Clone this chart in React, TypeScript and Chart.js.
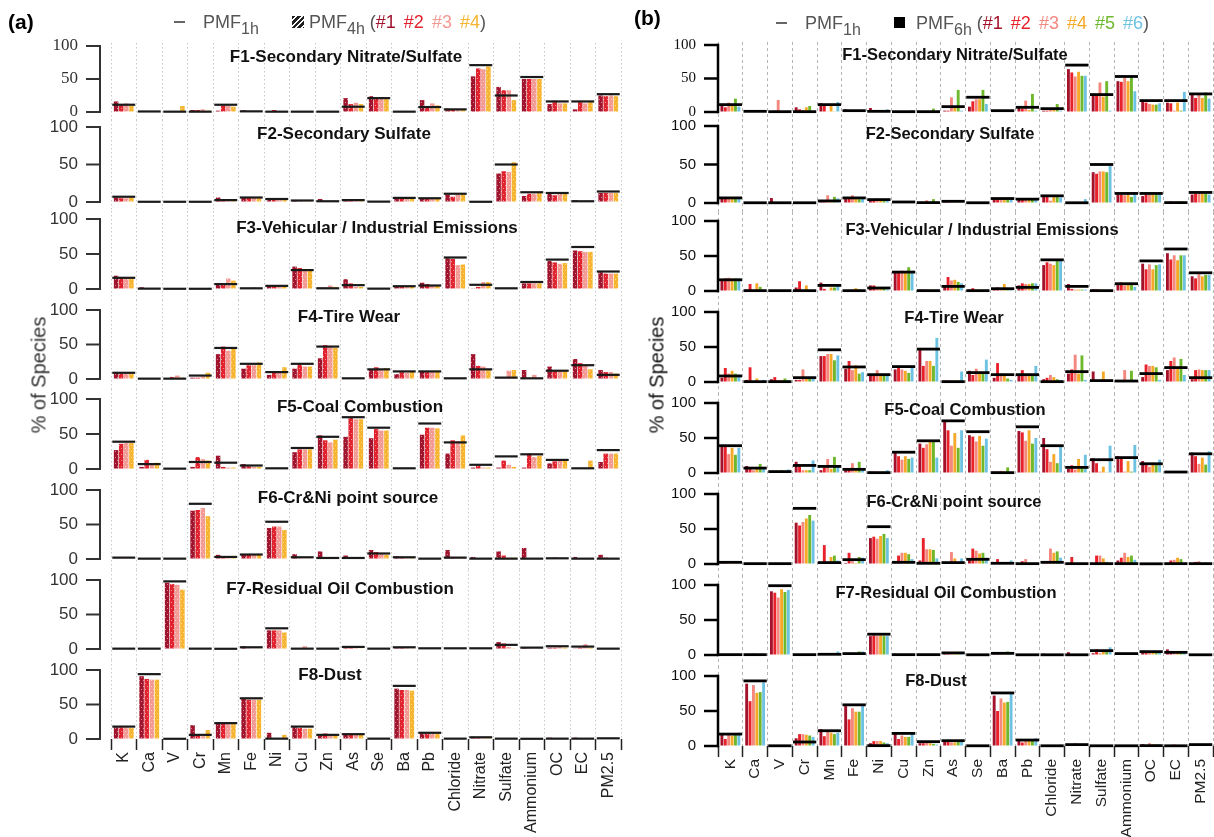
import React, { useEffect, useRef } from "react";
import { Chart, registerables } from "chart.js";
Chart.register(...registerables);

// ---------------- DATA ----------------
const species = ["K", "Ca", "V", "Cr", "Mn", "Fe", "Ni", "Cu", "Zn", "As", "Se", "Ba", "Pb", "Chloride", "Nitrate", "Sulfate", "Ammonium", "OC", "EC", "PM2.5"];
const factorTitles = ["F1-Secondary Nitrate/Sulfate", "F2-Secondary Sulfate", "F3-Vehicular / Industrial Emissions", "F4-Tire Wear", "F5-Coal Combustion", "F6-Cr&Ni point source", "F7-Residual Oil Combustion", "F8-Dust"];
const yTicks = [0, 50, 100];
const runs4h = ["#1", "#2", "#3", "#4"];
const runs6h = ["#1", "#2", "#3", "#4", "#5", "#6"];

// Panel (a): PMF1h profile (line) and PMF4h runs #1-#4 (rows = species)
const a_F1_1h = [11, 0.8, 0.5, 0.5, 11, 1, 0.5, 0.5, 0.5, 8, 21, 0.5, 7.5, 4, 71, 25, 53, 16, 16, 27];
const a_F1_4h = [[16, 12, 13, 9], [1, 1, 1, 1], [0.5, 0.5, 0.5, 9], [3, 3, 4, 2], [2, 10, 9, 8], [2.5, 1, 1, 1], [1, 3, 1, 1], [1, 1, 1, 1], [1, 1, 1, 1], [21, 12, 14, 12], [24, 20, 22, 21], [1, 1, 1, 1], [18, 8, 13, 10], [5, 4, 3, 3], [54, 66, 65, 69], [38, 33, 33, 18], [50, 50, 50, 50], [12, 17, 13, 13], [4, 15, 13, 15], [25, 24, 25, 24]];
const a_F2_1h = [7, 0.3, 0.3, 0.3, 2.5, 6, 4, 2, 1, 2.5, 0.5, 5.5, 5, 11, 0.3, 50, 13, 12, 1, 14];
const a_F2_4h = [[6, 5, 5, 6], [0.3, 0.3, 0.3, 0.3], [0.3, 0.3, 0.3, 0.3], [0.3, 0.3, 0.3, 0.3], [6, 3, 2, 2], [6, 6, 6, 5], [4, 4, 3, 3], [2, 1, 1, 1], [4, 1, 0.5, 0.5], [2, 2, 2, 2], [0.3, 0.3, 0.3, 0.3], [5, 5, 5, 5], [4, 4, 4, 4], [10, 7, 10, 10], [0.3, 0.3, 0.3, 0.3], [38, 41, 40, 53], [8, 11, 11, 12], [12, 9, 11, 11], [2.5, 0.5, 0.5, 0.5], [12, 12, 12, 12]];
const a_F3_1h = [16, 0.5, 0.3, 0.3, 7, 1, 4.5, 27, 1, 5.5, 0.5, 4, 5, 45, 6, 1, 10, 42, 60, 25];
const a_F3_4h = [[19, 17, 16, 16], [2.5, 1, 1, 1], [1, 0.5, 0.5, 0.5], [1, 0.5, 1, 0.5], [6, 7, 15, 12], [1, 1, 2, 1], [4, 4, 4, 4], [32, 30, 27, 26], [2, 2, 5, 3], [14, 8, 3, 3], [1, 0.5, 0.5, 0.5], [4, 4, 4, 4], [9, 7, 5, 5], [44, 43, 34, 35], [1, 3, 10, 10], [1, 1, 0.5, 0.5], [8, 8, 8, 8], [40, 38, 36, 37], [55, 54, 53, 53], [24, 22, 22, 22]];
const a_F4_1h = [9, 0.5, 0.5, 5, 45, 22, 10, 22, 47, 1, 14, 11, 11, 1, 14, 2, 1, 12, 20, 6];
const a_F4_4h = [[9, 8, 8, 8], [1, 1, 1, 1], [1, 3, 5, 2], [2, 2, 4, 9], [36, 47, 41, 44], [15, 20, 20, 24], [6, 9, 11, 17], [15, 21, 18, 18], [30, 49, 47, 45], [1, 1, 1, 1], [13, 17, 14, 16], [7, 10, 9, 11], [11, 10, 10, 10], [1, 1, 1, 1], [36, 19, 18, 14], [1, 1, 12, 13], [13, 1, 6, 1], [18, 12, 12, 12], [29, 23, 20, 14], [13, 10, 10, 8]];
const a_F5_1h = [39, 7, 0.5, 10, 9, 5, 1, 30, 46, 74, 59, 1, 65, 38, 6, 18, 21, 13, 1, 27];
const a_F5_4h = [[27, 36, 37, 37], [3, 13, 8, 9], [0.5, 0.5, 0.5, 0.5], [3, 17, 14, 12], [19, 3, 2, 2], [7, 4, 3, 3], [1, 1, 1, 1], [24, 28, 28, 28], [48, 41, 38, 42], [46, 74, 71, 71], [44, 57, 55, 55], [1.5, 1.5, 1.5, 1.5], [49, 59, 59, 58], [22, 41, 40, 48], [2, 5, 2, 2], [2, 12, 6, 3], [2, 22, 17, 19], [8, 11, 13, 13], [1, 1, 1, 12], [10, 22, 22, 22]];
const a_F6_1h = [2, 0.5, 0.5, 80, 3, 6.5, 54, 2.5, 1.5, 1.5, 8, 2.5, 0.5, 2, 0.5, 0.5, 0.5, 1, 0.5, 0.5];
const a_F6_4h = [[1, 1, 1, 1], [0.5, 0.5, 0.5, 0.5], [0.5, 0.5, 0.5, 0.5], [70, 71, 74, 62], [6, 2, 2, 2], [6, 6, 6, 6], [45, 47, 47, 42], [7, 1, 1, 1], [11, 1, 1, 1], [5, 1, 1, 1], [13, 10, 7, 6], [4, 2, 2, 2], [1, 1, 0.5, 0.5], [13, 3, 3, 2], [3, 1, 0.5, 0.5], [11, 5, 2, 2], [16, 1, 0.5, 0.5], [1, 2, 1, 1], [3, 1, 1, 1], [6, 2, 1, 1]];
const a_F7_1h = [0.5, 0.5, 98, 0.5, 0.3, 2.5, 30, 0.5, 0.5, 3, 0.5, 2.5, 1, 1, 1, 6, 2, 4, 3.5, 0.5];
const a_F7_4h = [[1.5, 1, 1, 1], [1, 1, 1, 1], [96, 94, 93, 86], [1, 1, 1, 0.5], [0.5, 0.5, 0.5, 0.5], [4, 1, 1, 1], [27, 27, 27, 24], [1, 1, 4, 1], [1, 1, 1, 0.5], [2, 2, 2, 1], [1, 1, 1, 1], [2, 2, 2, 1], [1, 1, 1, 1], [1, 1, 1, 1], [1.5, 1, 1, 1], [10, 8, 3, 1], [2, 1, 1, 1], [2, 2, 4, 2], [1, 2, 7, 2], [1, 1, 1, 1]];
const a_F8_1h = [18, 94, 0.3, 6, 23, 59, 0.5, 18, 6, 7, 0.5, 77, 9, 0.5, 2.5, 0.5, 0.3, 0.5, 0.5, 1];
const a_F8_4h = [[17, 17, 17, 16], [91, 87, 86, 86], [1, 1, 0.5, 0.5], [20, 7, 4, 13], [23, 23, 22, 22], [58, 57, 57, 57], [9, 1, 1, 6], [17, 16, 15, 15], [5, 8, 7, 5], [6, 6, 6, 6], [1, 1, 1, 1], [73, 71, 71, 70], [8, 8, 8, 8], [0.5, 0.5, 0.5, 0.5], [3, 2, 2, 2], [1, 1, 0.5, 0.5], [0.3, 0.3, 0.3, 0.3], [2, 1, 0.5, 0.5], [2, 1, 0.5, 0.5], [1, 1, 1, 1]];

// Panel (b): PMF1h profile (line) and PMF6h runs #1-#6 (rows = species)
const b_F1_1h = [11, 1, 0.5, 0.5, 11, 2, 1, 0.5, 0.5, 8, 22, 2, 7, 5, 70, 26, 53, 17, 17, 27];
const b_F1_6h = [[10, 7, 14, 9, 20, 8], [0.5, 2.5, 0.5, 0.5, 0.5, 0.5], [0.5, 2, 18, 0.5, 0.5, 0.5], [7, 4, 3, 7, 9, 0.5], [13, 9, 1, 9, 1, 15], [4, 2, 1, 1, 1, 1], [6, 2, 2, 1, 1, 4], [0.5, 0.5, 0.5, 0.5, 0.5, 3], [0.5, 0.5, 0.5, 0.5, 5, 0.5], [2, 2, 22, 7, 33, 2], [8, 16, 19, 19, 33, 12], [2, 1, 1, 1, 1, 1], [8, 5, 17, 3, 27, 2], [2, 2, 4, 4, 12, 2], [64, 59, 53, 60, 54, 54], [27, 27, 44, 23, 46, 2], [46, 45, 51, 46, 52, 31], [17, 14, 12, 11, 11, 13], [14, 13, 2, 14, 2, 30], [27, 21, 27, 21, 29, 20]];
const b_F2_1h = [6.6, 0.3, 0.3, 0.3, 2.7, 6.6, 4.4, 1.3, 0.5, 2.2, 0.3, 5.8, 5, 9.3, 0.3, 50, 12.4, 12.4, 0.5, 13.7];
const b_F2_6h = [[6, 6, 6, 6, 6, 7], [0.3, 0.3, 0.3, 0.3, 0.3, 0.3], [6.5, 0.3, 0.3, 0.3, 0.3, 0.3], [0.3, 0.3, 0.3, 0.3, 0.3, 0.3], [3, 3, 10, 3, 8, 6], [6, 7, 10, 6, 5, 6], [4, 5, 6, 4, 4, 3], [1.5, 1, 1, 1, 1, 1], [0.5, 0.5, 3.5, 0.5, 5, 0.5], [3, 3, 2, 3, 1, 1], [0.3, 0.3, 0.3, 0.3, 0.3, 0.3], [5, 5, 7, 5, 5, 5], [5, 4, 4, 4, 4, 4], [8, 8, 3, 8, 8, 7], [0.3, 0.3, 0.3, 0.3, 0.3, 5], [40, 38, 41, 41, 40, 48], [11, 11, 10, 11, 8, 11], [9, 11, 11, 11, 11, 11], [0.5, 2, 0.5, 2, 2, 0.5], [11, 12, 12, 12, 12, 11]];
const b_F3_1h = [16, 0.5, 0.5, 0.5, 8, 0.5, 4.3, 27, 0.5, 6.6, 0.5, 3.3, 5.2, 44.5, 6.6, 0.5, 10.4, 43, 60, 26];
const b_F3_6h = [[16, 18, 19, 18, 18, 18], [2, 10, 2, 11, 6, 1], [1.5, 1.5, 1.5, 1.5, 1.5, 1.5], [5, 14, 1, 8, 1, 1], [12, 3, 1, 5, 5, 7], [1.5, 1.5, 2, 4, 2.5, 1.5], [8, 8, 5, 4, 4, 2], [27, 27, 29, 28, 34, 29], [2, 2, 2, 2, 2, 2], [7, 20, 15, 16, 13, 11], [2, 4, 2, 2, 2, 2], [2, 5, 3, 10, 3, 3], [8, 11, 10, 10, 11, 11], [37, 41, 39, 37, 43, 43], [10, 3, 2, 2, 2, 2], [2.5, 2.5, 2, 2, 2, 2], [10, 12, 8, 9, 10, 6], [39, 31, 38, 31, 37, 38], [54, 45, 51, 44, 51, 51], [21, 18, 24, 21, 23, 23]];
const b_F4_1h = [8.6, 0.5, 0.5, 6.2, 46, 21.5, 10.5, 22, 47, 0.5, 13.4, 10.5, 10.5, 0.5, 14.8, 2, 1.4, 12, 20.6, 6.2];
const b_F4_6h = [[6, 20, 12, 16, 12, 11], [3, 21, 1, 5, 1, 3], [4, 7, 3, 3, 5, 3], [3, 3, 18, 5, 5, 5], [37, 37, 40, 40, 31, 38], [19, 30, 17, 24, 12, 14], [9, 10, 17, 12, 12, 12], [18, 21, 18, 16, 13, 21], [47, 23, 30, 30, 23, 63], [2, 2, 2, 2, 2, 15], [16, 10, 19, 13, 13, 32], [6, 27, 12, 12, 5, 3], [10, 17, 12, 12, 10, 23], [4, 6, 10, 7, 4, 3], [12, 18, 39, 12, 38, 3], [15, 1, 1, 15, 1, 1], [2, 2, 17, 3, 16, 1], [7, 25, 23, 23, 21, 3], [17, 30, 35, 19, 33, 10], [4, 17, 18, 17, 17, 17]];
const b_F5_1h = [39, 7, 2, 10.8, 9.4, 5.2, 0.5, 29.7, 46, 74.5, 59, 0.5, 66, 39, 8, 19, 22, 13.2, 1.4, 27.4];
const b_F5_6h = [[39, 39, 27, 36, 26, 36], [10, 6, 4, 7, 13, 7], [1, 1, 1, 4, 1, 5], [16, 11, 4, 4, 4, 18], [4, 8, 20, 6, 23, 9], [4, 7, 14, 4, 16, 4], [2, 2, 2, 2, 2, 4], [31, 24, 19, 24, 20, 22], [42, 36, 41, 45, 45, 22], [74, 61, 39, 57, 36, 61], [54, 52, 45, 53, 39, 49], [2, 2, 3, 2, 8, 1], [60, 58, 46, 61, 42, 50], [50, 34, 16, 27, 14, 38], [6, 11, 5, 20, 7, 26], [21, 14, 2, 9, 1, 39], [24, 21, 2, 17, 2, 40], [17, 12, 9, 15, 14, 19], [2, 2, 2, 2, 2, 2], [29, 24, 13, 22, 12, 31]];
const b_F6_1h = [2.4, 0.5, 0.5, 79.5, 2, 6.2, 53.3, 2.4, 1, 2, 6.7, 1, 0.5, 2.4, 0.5, 0.5, 0.5, 0.3, 0.5, 0.5];
const b_F6_6h = [[1.5, 1.5, 1.5, 1.5, 1.5, 1.5], [0.3, 0.3, 0.3, 0.3, 0.3, 0.3], [0.3, 0.3, 0.3, 0.3, 0.3, 0.3], [59, 55, 60, 65, 70, 62], [1.5, 27, 2, 10, 12, 5], [1.5, 16, 4, 1.5, 10, 9], [37, 39, 36, 40, 43, 37], [4, 12, 16, 16, 14, 7], [5, 37, 21, 21, 20, 8], [1.5, 1.5, 17, 8, 1.5, 8], [6, 22, 19, 15, 16, 9], [1.5, 7, 2, 2, 2, 5], [0.5, 4, 7, 1, 1, 1], [2, 4, 22, 16, 18, 9], [1, 10, 0.5, 0.5, 0.5, 0.5], [1.5, 12, 12, 8, 3, 1], [5, 9, 16, 10, 12, 6], [0.3, 0.3, 0.3, 0.3, 0.3, 0.3], [1, 5, 6, 9, 7, 2], [1, 3, 4, 1, 2, 1]];
const b_F7_1h = [0.5, 0.5, 99, 0.5, 1, 2, 29.7, 0.5, 0.5, 3, 0.3, 2.4, 0.3, 0.3, 0.3, 6.2, 2, 4.8, 3.8, 0.3];
const b_F7_6h = [[0.3, 0.3, 0.3, 0.3, 0.3, 0.3], [0.3, 0.3, 2, 0.3, 0.3, 0.3], [91, 89, 82, 94, 90, 93], [0.5, 0.5, 0.5, 0.5, 0.5, 0.5], [2, 1, 1, 1, 2, 5], [1, 0.5, 0.5, 2, 5, 5], [27, 28, 27, 28, 27, 27], [2, 0.5, 0.5, 0.5, 0.5, 0.5], [0.5, 0.5, 0.5, 0.5, 0.5, 1], [3, 3, 3, 3, 3, 2], [0.3, 0.3, 0.3, 0.3, 0.3, 0.3], [2, 1.5, 2.5, 3, 5, 3], [0.3, 0.3, 0.3, 0.3, 0.3, 0.3], [2, 0.3, 0.3, 0.3, 0.3, 0.3], [4, 0.3, 0.3, 0.3, 0.3, 0.3], [2.5, 8, 2.5, 6, 7, 11], [3, 2, 0.5, 1, 1, 1], [6, 4, 4, 4, 4, 4], [8, 3, 3, 4, 4, 4], [0.3, 0.3, 0.3, 0.3, 0.3, 0.3]];
const b_F8_1h = [17, 93, 0.3, 5.7, 21.8, 58.8, 0.5, 18, 6.2, 7.6, 0.3, 75.8, 8.5, 0.3, 2, 0.3, 0.3, 0.5, 0.3, 2];
const b_F8_6h = [[17, 10, 16, 15, 16, 19], [89, 64, 87, 76, 77, 91], [0.3, 0.3, 0.3, 0.3, 0.3, 0.3], [11, 17, 17, 16, 15, 13], [24, 14, 20, 19, 17, 19], [57, 38, 54, 49, 49, 57], [4, 7, 7, 7, 5, 4], [17, 10, 15, 13, 13, 17], [4, 4, 5, 4, 3, 2], [6, 6, 5, 5, 8, 9], [0.3, 0.3, 0.3, 0.3, 0.3, 0.3], [72, 50, 68, 62, 63, 75], [8, 5, 8, 8, 8, 11], [0.3, 0.3, 0.3, 0.3, 0.3, 2], [1.5, 1.5, 4, 1.5, 1, 1], [0.3, 0.3, 0.3, 0.3, 0.3, 0.3], [0.3, 0.3, 0.3, 0.3, 0.3, 0.3], [2.5, 1, 4, 2.5, 2.5, 2.5], [0.3, 0.3, 2.4, 0.3, 0.3, 0.3], [1, 1, 1, 1, 1, 1]];

// ---------------- LAYOUT / STYLE ----------------
const W = 1214;
const H = 837;
const PAD = 14;
const RPAD = 16;
const SANS = '"Liberation Sans", Arial, Helvetica, sans-serif';
const SERIF = '"Liberation Serif", "Times New Roman", serif';

const leftColors = ["#a0142d", "#e1232f", "#f29a93", "#f6b42f"];
const rightColors = ["#a3122a", "#e8212b", "#f4877e", "#f6a829", "#6fb82c", "#6dc2e2"];

const panelA = {
  canvasLeft: 0, areaLeft: 111, areaRight: 621, axisOffset: -11, labelRight: 78,
  y100: [46, 127, 219, 310, 399, 490, 580, 670],
  y0: [112, 202, 289, 379, 469, 559, 649, 739],
  titlePos: [[346, 57], [344, 134], [377, 228], [349, 317], [360, 407], [348, 498], [340, 589], [330, 675]],
  lines: [a_F1_1h, a_F2_1h, a_F3_1h, a_F4_1h, a_F5_1h, a_F6_1h, a_F7_1h, a_F8_1h],
  runs: [a_F1_4h, a_F2_4h, a_F3_4h, a_F4_4h, a_F5_4h, a_F6_4h, a_F7_4h, a_F8_4h],
  runNames: runs4h, colors: leftColors, pattern: true,
  catPct: 0.8, barPct: 0.88, lineFrac: 0.45, lineWidth: 2.2, lineColor: "#1a1a1a",
  axisColor: "#333", axisWidth: 2, tickLen: 14, tickColor: "#333", tickSize: 17,
  titleSize: 17, xLabelSize: 16, gridColor: "#c9c9c9", gridDash: [1.5, 2.5],
};
const panelB = {
  canvasLeft: 630, areaLeft: 718, areaRight: 1213, axisOffset: 0, labelRight: 696,
  y100: [45, 126, 221, 312, 403, 494, 585, 676],
  y0: [112, 203, 291, 382, 473, 564, 655, 746],
  titlePos: [[955, 55], [950, 134], [982, 230], [954, 318], [965, 410], [954, 502], [946, 593], [936, 681]],
  lines: [b_F1_1h, b_F2_1h, b_F3_1h, b_F4_1h, b_F5_1h, b_F6_1h, b_F7_1h, b_F8_1h],
  runs: [b_F1_6h, b_F2_6h, b_F3_6h, b_F4_6h, b_F5_6h, b_F6_6h, b_F7_6h, b_F8_6h],
  runNames: runs6h, colors: rightColors, pattern: false,
  catPct: 0.82, barPct: 0.85, lineFrac: 0.47, lineWidth: 2.8, lineColor: "#000",
  axisColor: "#000", axisWidth: 2.5, tickLen: 14, tickColor: "#111", tickSize: 15,
  titleSize: 16.5, xLabelSize: 15.5, gridColor: "#b5b5b5", gridDash: [3, 3],
};

function makeDotPattern(color: string) {
  const c = document.createElement("canvas");
  c.width = 4;
  c.height = 6;
  const g = c.getContext("2d") as CanvasRenderingContext2D;
  g.fillStyle = color;
  g.fillRect(0, 0, 4, 6);
  g.fillStyle = "rgba(255,255,255,0.5)";
  g.fillRect(1, 1, 1, 1);
  g.fillRect(3, 4, 1, 1);
  return g.createPattern(c, "repeat") as CanvasPattern;
}

const axisPlugin = {
  id: "rAxis",
  afterDatasetsDraw(chart: any, _args: any, opts: any) {
    const y = chart.scales.y;
    const ctx = chart.ctx;
    const x = chart.chartArea.left + opts.offset;
    const p0 = y.getPixelForValue(0);
    const p100 = y.getPixelForValue(100);
    ctx.save();
    ctx.strokeStyle = opts.color;
    ctx.lineWidth = opts.width;
    ctx.lineCap = "butt";
    ctx.beginPath();
    ctx.moveTo(x, p100 - opts.width / 2);
    ctx.lineTo(x, p0 + opts.width / 2);
    ctx.stroke();
    for (const v of yTicks) {
      const p = y.getPixelForValue(v);
      ctx.beginPath();
      ctx.moveTo(x - opts.tick, p);
      ctx.lineTo(x, p);
      ctx.stroke();
    }
    ctx.restore();
  },
};

const innerTitlePlugin = {
  id: "innerTitle",
  afterDatasetsDraw(chart: any, _args: any, opts: any) {
    const ctx = chart.ctx;
    ctx.save();
    ctx.font = opts.font;
    ctx.fillStyle = opts.color;
    ctx.textAlign = "center";
    ctx.textBaseline = "middle";
    ctx.fillText(opts.text, opts.x, opts.y);
    ctx.restore();
  },
};

function Subplot({ panel, i }: { panel: any; i: number }) {
  const ref = useRef<HTMLCanvasElement>(null);
  const n = panel.y0.length;
  const isBottom = i === n - 1;
  const areaTop = i === 0 ? panel.y100[0] - 3 : Math.round((panel.y0[i - 1] + panel.y100[i]) / 2);
  const areaBottom = isBottom ? panel.y0[i] : Math.round((panel.y0[i] + panel.y100[i + 1]) / 2);
  const canvasTop = areaTop - PAD;
  const bottomH = isBottom ? H - areaBottom : PAD;
  const ch = areaBottom - areaTop + PAD + bottomH;
  const cw = panel.areaRight - panel.canvasLeft + RPAD;
  const k = 100 / (panel.y0[i] - panel.y100[i]);
  const yMin = -(areaBottom - panel.y0[i]) * k;
  const yMax = 100 + (panel.y100[i] - areaTop) * k;
  const yW = panel.areaLeft - panel.canvasLeft;

  useEffect(() => {
    const canvas = ref.current as HTMLCanvasElement;
    const rows: number[][] = panel.runs[i];
    const bars = panel.runNames.map((name: string, r: number) => ({
      type: "bar",
      label: name,
      data: rows.map((row) => row[r]),
      backgroundColor: panel.pattern ? makeDotPattern(panel.colors[r]) : panel.colors[r],
      borderWidth: 0,
      categoryPercentage: panel.catPct,
      barPercentage: panel.barPct,
      order: 2,
    }));
    const radiusFn = (ctx: any) => (ctx.chart.scales.x.width / species.length) * panel.lineFrac;
    const line = {
      type: "line",
      label: "PMF1h",
      data: panel.lines[i],
      showLine: false,
      pointStyle: "line",
      pointRadius: radiusFn,
      pointHoverRadius: radiusFn,
      pointBorderWidth: panel.lineWidth,
      pointHoverBorderWidth: panel.lineWidth,
      pointBorderColor: panel.lineColor,
      pointBackgroundColor: panel.lineColor,
      borderColor: panel.lineColor,
      clip: false,
      order: 1,
    };
    const tickFamily = i === 0 ? SERIF : SANS;
    const labelGap = panel.areaLeft - panel.labelRight;
    const chart = new Chart(canvas, {
      type: "bar",
      data: { labels: species, datasets: [...bars, line] as any },
      options: {
        responsive: false,
        maintainAspectRatio: false,
        animation: false,
        events: [],
        layout: { padding: { top: PAD, bottom: isBottom ? 0 : PAD, left: 0, right: RPAD } },
        plugins: {
          legend: { display: false },
          tooltip: { enabled: false },
          title: { display: false },
          rAxis: { offset: panel.axisOffset, color: panel.axisColor, width: panel.axisWidth, tick: panel.tickLen },
          innerTitle: {
            text: factorTitles[i],
            x: panel.titlePos[i][0] - panel.canvasLeft,
            y: panel.titlePos[i][1] - canvasTop,
            font: `bold ${panel.titleSize}px ${SANS}`,
            color: "#111",
          },
        } as any,
        scales: {
          x: {
            type: "category",
            offset: true,
            afterFit: (s: any) => {
              s.height = isBottom ? bottomH : 0;
            },
            grid: {
              display: true,
              drawOnChartArea: true,
              drawTicks: isBottom,
              offset: true,
              color: panel.gridColor,
              lineWidth: 1,
              tickLength: 11,
              tickColor: "#222",
              tickWidth: 1.5,
            },
            border: { display: false, dash: panel.gridDash },
            ticks: {
              display: isBottom,
              autoSkip: false,
              maxRotation: 90,
              minRotation: 90,
              padding: 2,
              color: "#222",
              font: { family: SANS, size: panel.xLabelSize },
            },
          },
          y: {
            type: "linear",
            min: yMin,
            max: yMax,
            bounds: "data",
            afterFit: (s: any) => {
              s.width = yW;
            },
            afterBuildTicks: (s: any) => {
              s.ticks = yTicks.map((v) => ({ value: v }));
            },
            // invisible tick marks only reserve the gap between labels and plot area
            grid: {
              display: true,
              drawOnChartArea: false,
              drawTicks: true,
              tickLength: labelGap - 1,
              tickColor: "rgba(0,0,0,0)",
              color: "rgba(0,0,0,0)",
            },
            border: { display: false },
            ticks: {
              padding: 1,
              color: panel.tickColor,
              font: { family: tickFamily, size: panel.tickSize },
            },
          },
        } as any,
      },
      plugins: [axisPlugin, innerTitlePlugin] as any,
    } as any);
    return () => chart.destroy();
  }, []);

  return (
    <canvas
      ref={ref}
      width={cw}
      height={ch}
      style={{ position: "absolute", left: panel.canvasLeft, top: canvasTop, width: cw, height: ch }}
    />
  );
}

const textAt = (x: number, yc: number, extra: any = {}) => ({
  position: "absolute" as const,
  left: x,
  top: yc,
  transform: "translateY(-50%)",
  whiteSpace: "nowrap" as const,
  font: `18px ${SANS}`,
  lineHeight: "20px",
  color: "#555",
  ...extra,
});

const subStyle = { fontSize: 16, verticalAlign: "-0.35em", lineHeight: 0 };

function RunLabels({ names, colors }: { names: string[]; colors: string[] }) {
  return (
    <>
      {"("}
      {names.map((nm, j) => (
        <span key={nm} style={{ color: colors[j], marginRight: j < names.length - 1 ? 8 : 0 }}>
          {nm}
        </span>
      ))}
      {")"}
    </>
  );
}

export default function App() {
  return (
    <div style={{ position: "fixed", left: 0, top: 0, width: W, height: H, overflow: "hidden", background: "#fff" }}>
      {panelA.y0.map((_, i) => (
        <Subplot key={"a" + i} panel={panelA} i={i} />
      ))}
      {panelB.y0.map((_, i) => (
        <Subplot key={"b" + i} panel={panelB} i={i} />
      ))}

      {/* panel labels */}
      <div style={textAt(8, 22, { font: `bold 21px ${SANS}`, color: "#000" })}>(a)</div>
      <div style={textAt(634, 18, { font: `bold 21px ${SANS}`, color: "#000" })}>(b)</div>

      {/* legend (a) */}
      <div style={{ position: "absolute", left: 174, top: 21, width: 11, height: 2, background: "#666" }} />
      <div style={textAt(203, 22)}>
        PMF<sub style={subStyle}>1h</sub>
      </div>
      <div
        style={{
          position: "absolute", left: 292, top: 16, width: 12, height: 12,
          background: "repeating-linear-gradient(135deg, #222 0px, #222 2.6px, #fff 2.6px, #fff 4px)",
        }}
      />
      <div style={textAt(309, 22)}>
        PMF<sub style={subStyle}>4h</sub> <RunLabels names={runs4h} colors={leftColors} />
      </div>

      {/* legend (b) */}
      <div style={{ position: "absolute", left: 776, top: 22, width: 11, height: 2, background: "#666" }} />
      <div style={textAt(805, 23)}>
        PMF<sub style={subStyle}>1h</sub>
      </div>
      <div style={{ position: "absolute", left: 894, top: 17, width: 11, height: 11, background: "#000" }} />
      <div style={textAt(916, 23)}>
        PMF<sub style={subStyle}>6h</sub> <RunLabels names={runs6h} colors={rightColors} />
      </div>

      {/* y-axis titles */}
      <div
        style={{
          position: "absolute", left: 39, top: 375, transform: "translate(-50%, -50%) rotate(-90deg)",
          whiteSpace: "nowrap", font: `20px ${SANS}`, color: "#333",
        }}
      >
        % of Species
      </div>
      <div
        style={{
          position: "absolute", left: 657, top: 375, transform: "translate(-50%, -50%) rotate(-90deg)",
          whiteSpace: "nowrap", font: `20px ${SANS}`, color: "#111",
        }}
      >
        % of Species
      </div>
    </div>
  );
}
